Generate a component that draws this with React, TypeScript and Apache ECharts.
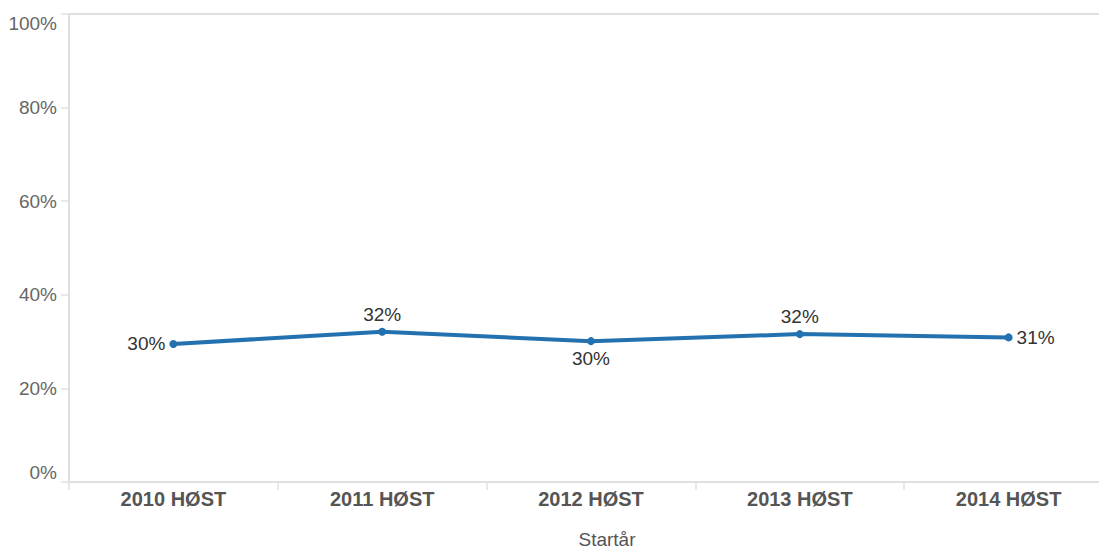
import React, { useEffect, useRef } from "react";
import * as echarts from "echarts";

const categories = ["2010 HØST", "2011 HØST", "2012 HØST", "2013 HØST", "2014 HØST"];
const values = [0.295, 0.321, 0.301, 0.316, 0.309];
const labelPositions = ["left", "top", "bottom", "top", "right"];
const xAxisName = "Startår";

export default function App() {
  const ref = useRef<HTMLDivElement>(null);
  useEffect(() => {
    document.body.style.margin = "0";
    const chart = echarts.init(ref.current!, undefined, { renderer: "svg" });
    const font = "'Liberation Sans', Arial, sans-serif";
    chart.setOption({
      animation: false,
      grid: { left: 69, right: -14, top: 14, bottom: 67, containLabel: false, outerBoundsMode: "none" },
      xAxis: [
        {
          type: "category",
          data: categories,
          boundaryGap: true,
          axisLine: { lineStyle: { color: "#e0e0e0", width: 2 } },
          axisTick: { show: true, length: 8, lineStyle: { color: "#e0e0e0", width: 1.5 } },
          axisLabel: {
            color: "#555555",
            fontSize: 20,
            fontWeight: "bold",
            fontFamily: font,
            margin: 7,
          },
          name: xAxisName,
          nameLocation: "middle",
          nameGap: 48,
          nameTextStyle: { color: "#555555", fontSize: 19, fontFamily: font, padding: [0, 0, 0, 32] },
          splitLine: { show: false },
        },
        {
          type: "category",
          position: "top",
          data: categories,
          axisLine: { show: true, lineStyle: { color: "#e0e0e0", width: 2 } },
          axisTick: { show: false },
          axisLabel: { show: false },
          splitLine: { show: false },
        },
      ],
      yAxis: {
        type: "value",
        min: 0,
        max: 1,
        interval: 0.2,
        axisLine: { show: true, lineStyle: { color: "#e0e0e0", width: 2 } },
        axisTick: { show: true, length: 8, lineStyle: { color: "#e0e0e0", width: 1.5 } },
        splitLine: { show: false },
        axisLabel: {
          color: "#666666",
          fontSize: 19,
          fontFamily: font,
          margin: 12,
          formatter: (v: number) => Math.round(v * 100) + "%",
          verticalAlignMinLabel: "bottom",
          verticalAlignMaxLabel: "top",
        },
      },
      series: [
        {
          type: "line",
          data: values.map((v, i) => ({
            value: v,
            label: { position: labelPositions[i] },
          })),
          symbol: "circle",
          symbolSize: 8,
          lineStyle: { color: "#2471b0", width: 4 },
          itemStyle: { color: "#2471b0" },
          label: {
            show: true,
            color: "#333333",
            fontSize: 19,
            fontFamily: font,
            distance: 4,
            formatter: (p: any) => Math.round(p.value * 100) + "%",
          },
        },
      ],
    });
    return () => chart.dispose();
  }, []);
  return <div ref={ref} style={{ width: 1099, height: 549 }} />;
}
